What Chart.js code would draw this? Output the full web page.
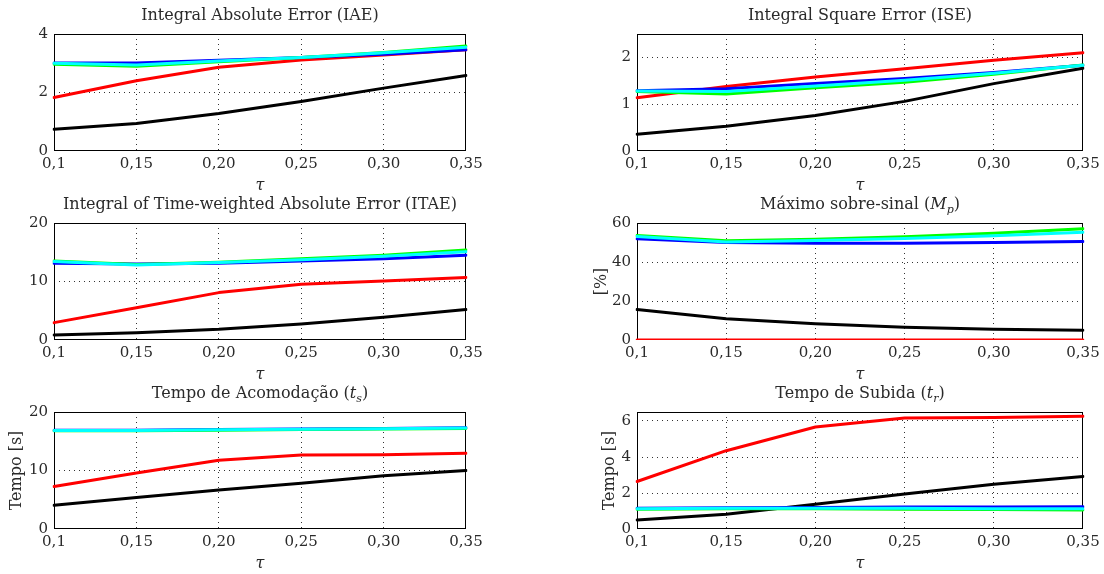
<!DOCTYPE html>
<html>
<head>
<meta charset="utf-8">
<title>Índices de desempenho em função de τ</title>
<script src="https://cdn.jsdelivr.net/npm/chart.js@4.4.0/dist/chart.umd.min.js"></script>
<style>
  html, body { margin: 0; padding: 0; background: #fff; width: 1104px; height: 574px; overflow: hidden; }
  canvas { position: absolute; }
</style>
</head>
<body>
<canvas id="cIAE"></canvas>
<canvas id="cISE"></canvas>
<canvas id="cITAE"></canvas>
<canvas id="cMp"></canvas>
<canvas id="cTs"></canvas>
<canvas id="cTr"></canvas>
<script>
// ---- data -------------------------------------------------------------
const tau = ['0,1', '0,15', '0,20', '0,25', '0,30', '0,35'];

// Integral Absolute Error
const iaeBlack = [0.74, 0.94, 1.28, 1.69, 2.15, 2.58];
const iaeRed   = [1.83, 2.40, 2.86, 3.11, 3.28, 3.46];
const iaeBlue  = [3.01, 3.01, 3.10, 3.20, 3.31, 3.46];
const iaeGreen = [2.97, 2.90, 3.05, 3.20, 3.37, 3.59];
const iaeCyan  = [3.00, 2.94, 3.08, 3.20, 3.36, 3.55];

// Integral Square Error
const iseBlack = [0.36, 0.53, 0.76, 1.06, 1.44, 1.77];
const iseRed   = [1.14, 1.38, 1.58, 1.76, 1.94, 2.10];
const iseBlue  = [1.29, 1.33, 1.44, 1.55, 1.68, 1.83];
const iseGreen = [1.27, 1.22, 1.35, 1.47, 1.64, 1.84];
const iseCyan  = [1.28, 1.27, 1.39, 1.51, 1.66, 1.83];

// Integral of Time-weighted Absolute Error
const itaeBlack = [0.86, 1.26, 1.83, 2.74, 3.90, 5.20];
const itaeRed   = [2.97, 5.50, 8.10, 9.54, 10.1, 10.7];
const itaeBlue  = [13.1, 13.0, 13.1, 13.5, 13.9, 14.5];
const itaeGreen = [13.5, 12.9, 13.3, 13.9, 14.5, 15.4];
const itaeCyan  = [13.4, 12.8, 13.25, 13.7, 14.3, 15.1];

// Máximo sobre-sinal [%]
const mpBlack = [15.6, 10.9, 8.3, 6.5, 5.5, 5.0];
const mpRed   = [0, 0, 0, 0, 0, 0];
const mpBlue  = [51.9, 50.0, 49.6, 49.6, 50.0, 50.5];
const mpGreen = [53.6, 50.9, 51.7, 53.0, 54.8, 57.1];
const mpCyan  = [53.1, 50.3, 51.0, 52.0, 53.5, 55.2];

// Tempo de acomodação [s]
const tsBlack = [4.06, 5.40, 6.67, 7.83, 9.10, 10.0];
const tsRed   = [7.25, 9.57, 11.77, 12.64, 12.70, 12.93];
const tsBlue  = [16.9, 16.9, 17.0, 17.1, 17.2, 17.3];
const tsGreen = [16.8, 16.8, 16.9, 17.0, 17.1, 17.2];
const tsCyan  = [16.85, 16.85, 16.95, 17.05, 17.15, 17.25];

// Tempo de subida [s]
const trBlack = [0.50, 0.82, 1.38, 1.95, 2.49, 2.92];
const trRed   = [2.64, 4.35, 5.67, 6.17, 6.20, 6.26];
const trBlue  = [1.15, 1.18, 1.20, 1.22, 1.22, 1.23];
const trGreen = [1.10, 1.12, 1.12, 1.10, 1.08, 1.05];
const trCyan  = [1.12, 1.15, 1.15, 1.15, 1.13, 1.12];

// y tick values of each panel
const iaeTicks  = [0, 2, 4];
const iseTicks  = [0, 1, 2];
const itaeTicks = [0, 10, 20];
const mpTicks   = [0, 20, 40, 60];
const tsTicks   = [0, 10, 20];
const trTicks   = [0, 2, 4, 6];

// ---- styling ----------------------------------------------------------
const FONT = "'DejaVu Serif', 'Liberation Serif', serif";
const TEXT = '#2a2a2a';
const lineColors = ['#000000', '#ff0000', '#0000ff', '#00ff00', '#00ffff'];

// Titles with italic symbols and subscripts, centred over the plot box
const richTitle = {
  id: 'richTitle',
  afterDraw(chart, args, opts) {
    const parts = opts.parts;
    if (!parts) return;
    const ctx = chart.ctx;
    const area = chart.chartArea;
    const fontOf = p => (p.italic ? 'italic ' : '') + (p.sub ? 11 : 16) + 'px ' + FONT;
    ctx.save();
    let total = 0;
    parts.forEach(p => { ctx.font = fontOf(p); total += ctx.measureText(p.text).width; });
    let x = (area.left + area.right) / 2 - total / 2;
    const y = area.top - 14;
    ctx.fillStyle = TEXT;
    ctx.textAlign = 'left';
    ctx.textBaseline = 'alphabetic';
    parts.forEach(p => {
      ctx.font = fontOf(p);
      ctx.fillText(p.text, x, y + (p.sub ? 4 : 0));
      x += ctx.measureText(p.text).width;
    });
    ctx.restore();
  }
};

// Solid box around the plot area
const boxFrame = {
  id: 'boxFrame',
  beforeDatasetsDraw(chart) {
    const { ctx, chartArea: a } = chart;
    ctx.save();
    ctx.strokeStyle = '#000';
    ctx.lineWidth = 1;
    ctx.strokeRect(Math.round(a.left) + 0.5, Math.round(a.top) + 0.5,
                   Math.round(a.right - a.left) - 1, Math.round(a.bottom - a.top) - 1);
    ctx.restore();
  }
};

// dotted grid only on the inner ticks
const innerGrid = c => {
  const v = c.tick ? c.tick.value : null;
  return (v === c.scale.min || v === c.scale.max) ? 'rgba(0,0,0,0)' : '#333';
};

function makePanel(id, box, titleParts, series, yMin, yMax, yTicks, yTitle) {
  const el = document.getElementById(id);
  el.width = box.w; el.height = box.h;
  el.style.left = box.x + 'px';
  el.style.top = box.y + 'px';

  const datasets = series.map((d, i) => ({
    data: d,
    borderColor: lineColors[i],
    backgroundColor: lineColors[i],
    borderWidth: 3,
    pointRadius: 0,
    tension: 0,
    borderCapStyle: 'round',
    borderJoinStyle: 'round',
    order: series.length - i
  }));

  new Chart(el, {
    type: 'line',
    data: { labels: tau, datasets },
    options: {
      responsive: false,
      animation: false,
      devicePixelRatio: 1,
      layout: { padding: { top: 30, right: box.padRight, bottom: 0, left: 0 } },
      plugins: {
        legend: { display: false },
        tooltip: { enabled: false },
        title: { display: false },
        richTitle: { parts: titleParts }
      },
      scales: {
        x: {
          type: 'category',
          offset: false,
          grid: { color: innerGrid, lineWidth: 1, drawTicks: false, offset: false },
          border: { display: false, dash: [1, 4] },
          ticks: { color: TEXT, font: { family: FONT, size: 15 }, padding: 4, autoSkip: false, maxRotation: 0 },
          title: { display: true, text: 'τ', color: TEXT, font: { family: FONT, size: 16, style: 'italic' }, padding: { top: 0, bottom: 1 } },
          afterFit: s => { s.height = 45; }
        },
        y: {
          type: 'linear',
          min: yMin, max: yMax,
          grid: { color: innerGrid, lineWidth: 1, drawTicks: false },
          border: { display: false, dash: [1, 4] },
          ticks: { color: TEXT, font: { family: FONT, size: 15 }, padding: 6, autoSkip: false },
          afterBuildTicks: s => { s.ticks = yTicks.map(v => ({ value: v })); },
          title: yTitle ? { display: true, text: yTitle.text, color: TEXT, font: { family: FONT, size: 16 }, padding: { top: yTitle.pad, bottom: 0 } } : { display: false },
          afterFit: s => { s.width = box.yw; }
        }
      }
    },
    plugins: [boxFrame, richTitle]
  });
}

// panel boxes: canvas position/size, y-axis band width and right margin
const leftCol  = { x: 0,   w: 490, yw: 54, padRight: 24 };
const rightCol = { x: 580, w: 524, yw: 57, padRight: 21 };
const rowTops = [4, 193, 382];
const boxOf = (col, r) => Object.assign({}, col, { y: rowTops[r], h: 192 });

makePanel('cIAE', boxOf(leftCol, 0),
  [{ text: 'Integral Absolute Error (IAE)' }],
  [iaeBlack, iaeRed, iaeBlue, iaeGreen, iaeCyan], 0, 4, iaeTicks, null);

makePanel('cISE', boxOf(rightCol, 0),
  [{ text: 'Integral Square Error (ISE)' }],
  [iseBlack, iseRed, iseBlue, iseGreen, iseCyan], 0, 2.5, iseTicks, null);

makePanel('cITAE', boxOf(leftCol, 1),
  [{ text: 'Integral of Time-weighted Absolute Error (ITAE)' }],
  [itaeBlack, itaeRed, itaeBlue, itaeGreen, itaeCyan], 0, 20, itaeTicks, null);

makePanel('cMp', boxOf(rightCol, 1),
  [{ text: 'Máximo sobre-sinal (' }, { text: 'M', italic: true }, { text: 'p', italic: true, sub: true }, { text: ')' }],
  [mpBlack, mpRed, mpBlue, mpGreen, mpCyan], 0, 60, mpTicks, { text: '[%]', pad: 12.4 });

makePanel('cTs', boxOf(leftCol, 2),
  [{ text: 'Tempo de Acomodação (' }, { text: 't', italic: true }, { text: 's', italic: true, sub: true }, { text: ')' }],
  [tsBlack, tsRed, tsBlue, tsGreen, tsCyan], 0, 20, tsTicks, { text: 'Tempo [s]', pad: 7.4 });

makePanel('cTr', boxOf(rightCol, 2),
  [{ text: 'Tempo de Subida (' }, { text: 't', italic: true }, { text: 'r', italic: true, sub: true }, { text: ')' }],
  [trBlack, trRed, trBlue, trGreen, trCyan], 0, 6.5, trTicks, { text: 'Tempo [s]', pad: 20.4 });
</script>
</body>
</html>
